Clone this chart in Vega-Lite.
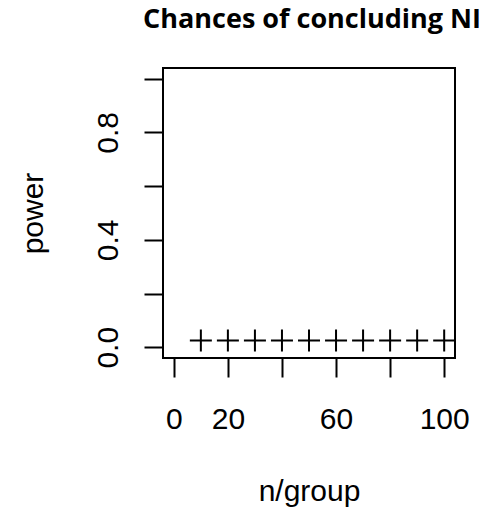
{
  "$schema": "https://vega.github.io/schema/vega-lite/v6.json",
  "width": 292,
  "height": 290,
  "autosize": {"type": "none"},
  "padding": {"left": 163, "top": 68, "right": 34, "bottom": 151},
  "background": "white",
  "title": {
    "text": "Chances of concluding NI",
    "font": "Open Sans",
    "fontWeight": "bold",
    "fontSize": 27,
    "color": "black",
    "anchor": "middle",
    "baseline": "alphabetic",
    "dx": 3,
    "offset": 13
  },
  "config": {
    "view": {"stroke": "black", "strokeWidth": 2},
    "axis": {
      "grid": false,
      "domain": false,
      "tickColor": "black",
      "tickWidth": 2,
      "tickSize": 19,
      "labelFont": "Liberation Sans",
      "labelFontSize": 30,
      "labelColor": "black",
      "labelFlush": false,
      "labelOverlap": false,
      "titleFont": "Liberation Sans",
      "titleFontSize": 30,
      "titleFontWeight": "normal",
      "titleColor": "black"
    }
  },
  "data": {
    "values": [
      {"n": 10, "power": 0.025},
      {"n": 20, "power": 0.025},
      {"n": 30, "power": 0.025},
      {"n": 40, "power": 0.025},
      {"n": 50, "power": 0.025},
      {"n": 60, "power": 0.025},
      {"n": 70, "power": 0.025},
      {"n": 80, "power": 0.025},
      {"n": 90, "power": 0.025},
      {"n": 100, "power": 0.025}
    ]
  },
  "mark": {
    "type": "point",
    "shape": "M-1,0H1M0,-1V1",
    "size": 484,
    "filled": false,
    "stroke": "black",
    "strokeWidth": 2,
    "opacity": 1
  },
  "encoding": {
    "x": {
      "field": "n",
      "type": "quantitative",
      "scale": {"domain": [-4, 104], "nice": false, "zero": false},
      "axis": {
        "title": "n/group",
        "values": [0, 20, 40, 60, 80, 100],
        "labelExpr": "datum.value == 40 || datum.value == 80 ? '' : format(datum.value, 'd')",
        "labelBaseline": "alphabetic",
        "labelPadding": 51,
        "titleBaseline": "alphabetic",
        "titleY": 142
      }
    },
    "y": {
      "field": "power",
      "type": "quantitative",
      "scale": {"domain": [-0.04, 1.04], "nice": false, "zero": false},
      "axis": {
        "title": "power",
        "values": [0, 0.2, 0.4, 0.6, 0.8, 1],
        "labelExpr": "abs(datum.value - 0.2) < 0.01 || abs(datum.value - 0.6) < 0.01 || abs(datum.value - 1) < 0.01 ? '' : format(datum.value, '.1f')",
        "labelAngle": -90,
        "labelAlign": "center",
        "labelBaseline": "alphabetic",
        "labelPadding": 27,
        "titleAngle": -90,
        "titleBaseline": "alphabetic",
        "titleX": -121
      }
    }
  }
}
